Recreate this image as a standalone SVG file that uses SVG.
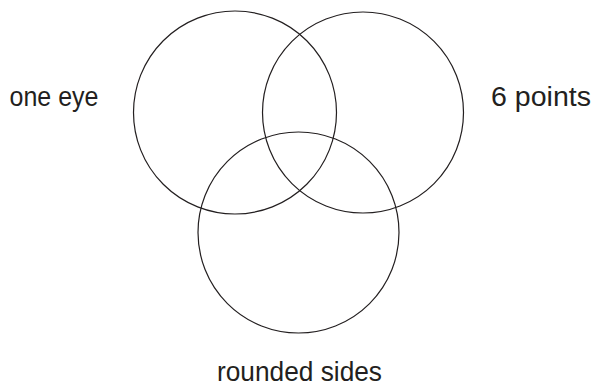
<svg xmlns="http://www.w3.org/2000/svg" width="595" height="387" viewBox="0 0 595 387">
<style>
.c{fill:none;stroke:#231f20;stroke-width:1.2}
.t{font-family:"Liberation Sans",Arial,sans-serif;font-size:27px;fill:#231f20}
</style>
<rect width="595" height="387" fill="#fff"/>
<g id="one-eye"><circle class="c" cx="235" cy="112.5" r="101.5"/><text class="t" x="9.5" y="106" textLength="89" lengthAdjust="spacingAndGlyphs">one eye</text></g>
<g id="six-points"><circle class="c" cx="363" cy="112.5" r="100.5"/><text class="t" x="491" y="106" textLength="100" lengthAdjust="spacingAndGlyphs">6 points</text></g>
<g id="rounded-sides"><circle class="c" cx="298.5" cy="232.5" r="100.5"/><text class="t" x="217" y="381" textLength="165" lengthAdjust="spacingAndGlyphs">rounded sides</text></g>
<g id="connectors"></g>
</svg>
